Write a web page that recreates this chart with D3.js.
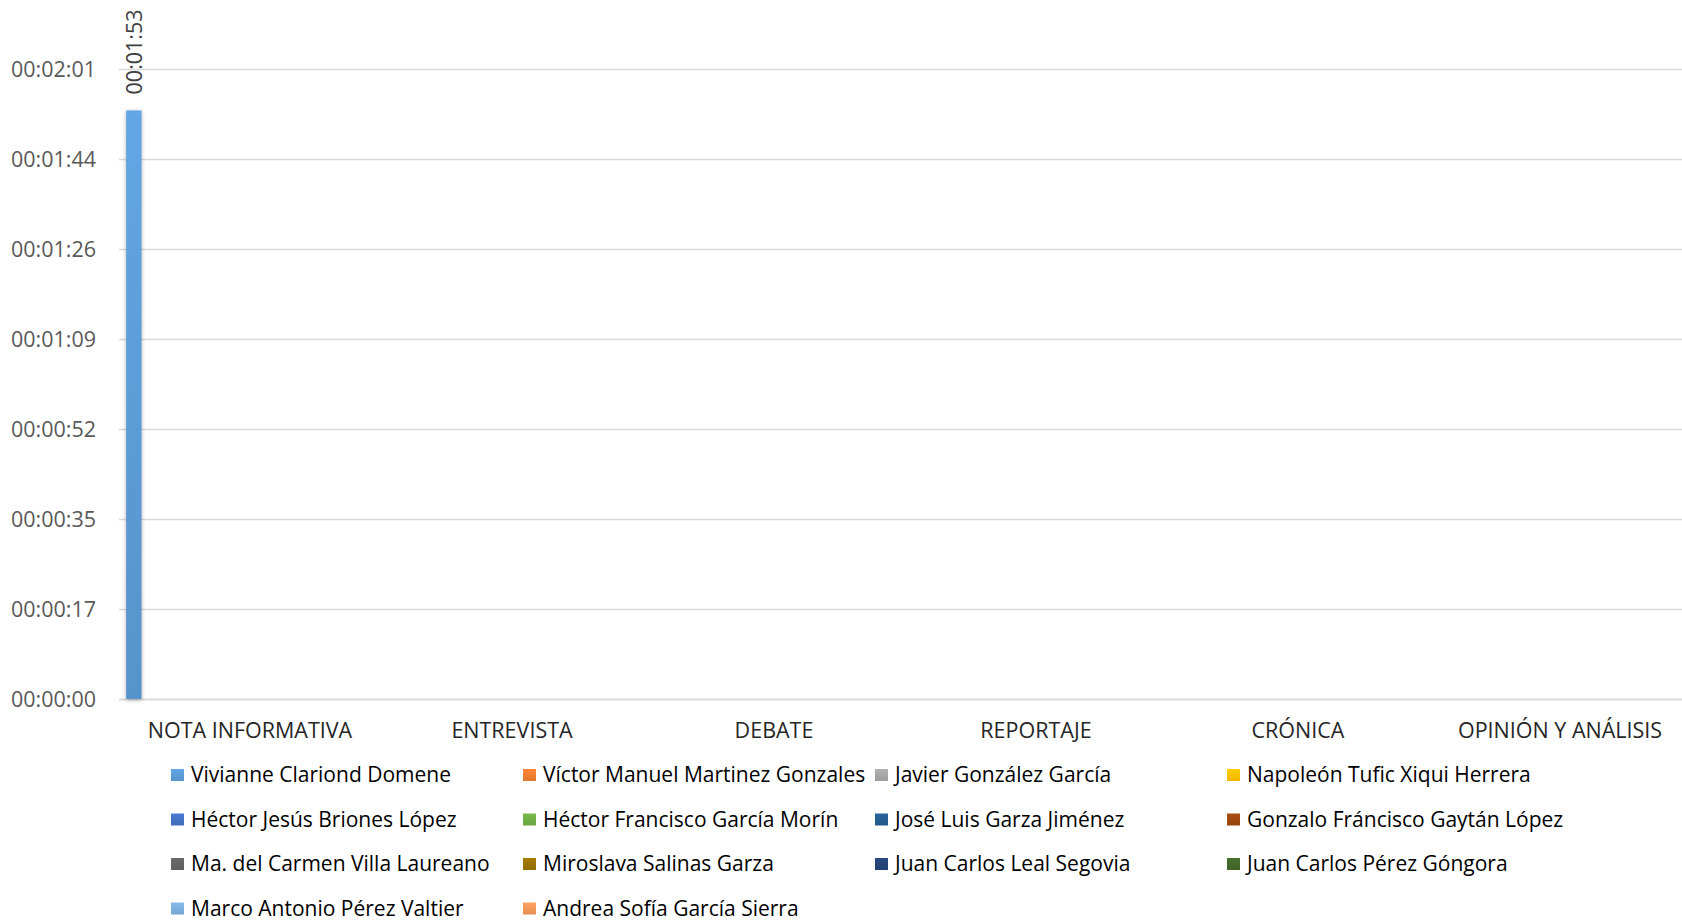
<!DOCTYPE html>
<html>
<head>
<meta charset="utf-8">
<script src="https://cdn.jsdelivr.net/npm/d3@7"></script>
<style>
  body { margin: 0; background: #fff; }
  svg { display: block; }
</style>
</head>
<body>
<svg id="chart"></svg>
<script>
// categories on the x axis
var categories = ["NOTA INFORMATIVA", "ENTREVISTA", "DEBATE", "REPORTAJE", "CRÓNICA", "OPINIÓN Y ANÁLISIS"];

// one series per person (legend order)
var seriesNames = [
  "Vivianne Clariond Domene", "Víctor Manuel Martinez Gonzales", "Javier González García", "Napoleón Tufic Xiqui Herrera",
  "Héctor Jesús Briones López", "Héctor Francisco García Morín", "José Luis Garza Jiménez", "Gonzalo Fráncisco Gaytán López",
  "Ma. del Carmen Villa Laureano", "Miroslava Salinas Garza", "Juan Carlos Leal Segovia", "Juan Carlos Pérez Góngora",
  "Marco Antonio Pérez Valtier", "Andrea Sofía García Sierra"
];
var seriesColors = [
  "#5B9BD5", "#ED7D31", "#A5A5A5", "#FFC000",
  "#4472C4", "#70AD47", "#255E91", "#9E480E",
  "#636363", "#997300", "#264478", "#43682B",
  "#7CAFDD", "#F1975A"
];

// seconds per category, one row per series (only the first one has time)
var vivianne = [113, 0, 0, 0, 0, 0];
var others = [0, 0, 0, 0, 0, 0];
var seriesValues = seriesNames.map(function(d, i) { return i === 0 ? vivianne : others; });

// y ticks (Excel step of 0.0002 day = 17.28 s)
var tickSeconds = [0, 17.28, 34.56, 51.84, 69.12, 86.4, 103.68, 120.96];

var W = 1682, H = 921;
var margin = {top: 69, left: 119, bottom: 222};
var plotBottom = H - margin.bottom;   // 699
var catWidth = 262;

var svg = d3.select("#chart").attr("width", W).attr("height", H);

function fmt(s) {
  var t = Math.round(s);
  var h = Math.floor(t / 3600), m = Math.floor((t % 3600) / 60), sec = t % 60;
  return d3.format("02d")(h) + ":" + d3.format("02d")(m) + ":" + d3.format("02d")(sec);
}

var x0 = d3.scaleBand()
  .domain(categories)
  .range([margin.left, margin.left + catWidth * categories.length])
  .padding(0);

var x1 = d3.scaleBand()
  .domain(seriesNames)
  .range([0, x0.bandwidth()])
  .paddingInner(0.14)
  .paddingOuter(0.4);

var y = d3.scaleLinear()
  .domain([0, d3.max(tickSeconds)])
  .range([plotBottom, margin.top]);

// gradients for bars and swatches
var defs = svg.append("defs");
seriesColors.forEach(function(c, i) {
  var g = defs.append("linearGradient")
    .attr("id", "grad" + i)
    .attr("x1", 0).attr("y1", 0).attr("x2", 0).attr("y2", 1);
  g.append("stop").attr("offset", "0%").attr("stop-color", d3.color(c).brighter(0.2));
  g.append("stop").attr("offset", "100%").attr("stop-color", d3.color(c).darker(0.15));
});

// gridlines
svg.append("g")
  .selectAll("line")
  .data(tickSeconds)
  .enter()
  .append("line")
  .attr("x1", margin.left)
  .attr("x2", W)
  .attr("y1", function(d) { return Math.round(y(d)) + 0.5; })
  .attr("y2", function(d) { return Math.round(y(d)) + 0.5; })
  .attr("stroke", "#d9d9d9")
  .attr("stroke-width", function(d) { return d === 0 ? 2 : 1.5; });

// y axis labels
svg.append("g")
  .selectAll("text")
  .data(tickSeconds)
  .enter()
  .append("text")
  .attr("x", 96)
  .attr("y", function(d) { return y(d); })
  .attr("dy", "0.35em")
  .attr("text-anchor", "end")
  .style("font-family", "'Open Sans', sans-serif")
  .style("font-size", "21.5px")
  .style("fill", "#595959")
  .text(fmt);

// x axis labels
svg.append("g")
  .selectAll("text")
  .data(categories)
  .enter()
  .append("text")
  .attr("x", function(d) { return x0(d) + x0.bandwidth() / 2; })
  .attr("y", 730)
  .attr("dy", "0.35em")
  .attr("text-anchor", "middle")
  .style("font-family", "'Open Sans', sans-serif")
  .style("font-size", "21.5px")
  .style("fill", "#262626")
  .text(function(d) { return d; });

// bars
var groups = svg.append("g")
  .selectAll("g")
  .data(seriesNames)
  .enter()
  .append("g");

groups.selectAll("rect")
  .data(function(name, i) {
    return categories.map(function(c, j) { return {name: name, idx: i, cat: c, value: seriesValues[i][j]}; });
  })
  .enter()
  .filter(function(d) { return d.value > 0; })
  .append("rect")
  .attr("x", function(d) { return x0(d.cat) + x1(d.name); })
  .attr("width", x1.bandwidth())
  .attr("y", function(d) { return y(d.value); })
  .attr("height", function(d) { return plotBottom - y(d.value); })
  .attr("fill", function(d) { return "url(#grad" + d.idx + ")"; })
  .style("filter", "drop-shadow(0px 1px 2px rgba(0,0,0,0.3))");

// data labels (rotated)
groups.selectAll("text")
  .data(function(name, i) {
    return categories.map(function(c, j) { return {name: name, cat: c, value: seriesValues[i][j]}; });
  })
  .enter()
  .filter(function(d) { return d.value > 0; })
  .append("text")
  .attr("transform", function(d) {
    var cx = x0(d.cat) + x1(d.name) + x1.bandwidth() / 2 + 1;
    return "translate(" + cx + "," + (y(d.value) - 16) + ") rotate(-90)";
  })
  .attr("dy", "0.35em")
  .attr("text-anchor", "start")
  .style("font-family", "'Open Sans', sans-serif")
  .style("font-size", "21.5px")
  .style("fill", "#404040")
  .text(function(d) { return fmt(d.value); });

// legend
var legCols = 4, colW = 352, rowH = 44.5, legX = 171, legBase = 782;
var legend = svg.append("g")
  .selectAll("g")
  .data(seriesNames)
  .enter()
  .append("g")
  .attr("transform", function(d, i) {
    return "translate(" + (legX + (i % legCols) * colW) + "," + (legBase + Math.floor(i / legCols) * rowH) + ")";
  });

legend.append("rect")
  .attr("x", 0)
  .attr("y", -13)
  .attr("width", 13)
  .attr("height", 12)
  .attr("fill", function(d, i) { return "url(#grad" + i + ")"; });

legend.append("text")
  .attr("x", 20)
  .attr("y", 0)
  .style("font-family", "'Open Sans', sans-serif")
  .style("font-size", "21px")
  .style("fill", "#000")
  .text(function(d) { return d; });
</script>
</body>
</html>
